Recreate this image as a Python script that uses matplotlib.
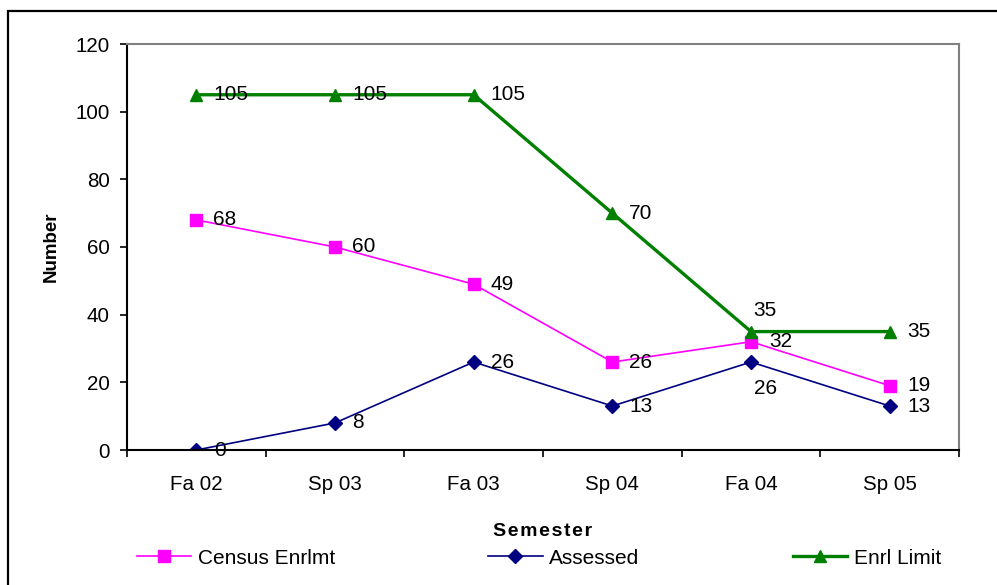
import matplotlib.pyplot as plt
from matplotlib.patches import Rectangle
import numpy as np

plt.rcParams['font.family'] = ['Liberation Sans', 'DejaVu Sans']

# Data
semesters = ['Fa 02', 'Sp 03', 'Fa 03', 'Sp 04', 'Fa 04', 'Sp 05']
census = [68, 60, 49, 26, 32, 19]
assessed = [0, 8, 26, 13, 26, 13]
enrl_limit = [105, 105, 105, 70, 35, 35]

# label offsets in pixels (dx, dy) per point
census_off = [(17, 0), (17, 0), (17, 0), (17, 0), (18, 0), (18, 0)]
assessed_off = [(18, 0), (17, 0), (17, 0), (17, 0), (3, -26), (18, 0)]
limit_off = [(17, 0), (17, 0), (17, 0), (17, 0), (2, 21), (18, 0)]

fig = plt.figure(figsize=(9.97, 5.85), dpi=100)
fig.patch.set_facecolor('white')

# outer chart border
fig.patches.append(Rectangle((8/997, -0.1), 1.2, 1 - 11/585 + 0.1, transform=fig.transFigure,
                             fill=False, edgecolor='black', linewidth=1.6))

ax = fig.add_axes([127/997, 135/585, 832/997, 406/585])
x = np.arange(len(semesters))

l1, = ax.plot(x, census, color='#FF00FF', lw=1.2, marker='s', ms=8, label='Census Enrlmt')
l2, = ax.plot(x, assessed, color='#000080', lw=1.2, marker='D', ms=7, label='Assessed')
l3, = ax.plot(x, enrl_limit, color='#008000', lw=2.4, marker='^', ms=9, label='Enrl Limit')

for vals, offs in [(census, census_off), (assessed, assessed_off), (enrl_limit, limit_off)]:
    for xi, v, (dx, dy) in zip(x, vals, offs):
        ax.annotate(str(v), (xi, v), xytext=(dx * 0.72, dy * 0.72), textcoords='offset points',
                    ha='left', va='center', fontsize=15, clip_on=False)

ax.set_xlim(-0.5, 5.5)
ax.set_ylim(0, 120)
ax.set_yticks(np.arange(0, 121, 20))
ax.set_xticks(x)
ax.set_xticklabels(semesters)
ax.set_xticks(np.arange(-0.5, 6, 1), minor=True)
ax.tick_params(axis='x', which='major', length=0, labelsize=14.8, pad=18)
ax.tick_params(axis='x', which='minor', length=5, width=1.2, direction='out')
ax.tick_params(axis='y', length=5, width=1.2, direction='out', labelsize=14.8, pad=7.5)

for s in ['top', 'right']:
    ax.spines[s].set_color('#808080')
    ax.spines[s].set_linewidth(1.5)
for s in ['left', 'bottom']:
    ax.spines[s].set_color('black')
    ax.spines[s].set_linewidth(1.5)

# slightly letter-spaced axis title
ax.set_xlabel('\u200a'.join('Semester'), fontsize=14, fontweight='bold', labelpad=21)
ax.set_ylabel('Number', fontsize=13.5, fontweight='bold', labelpad=11)

fig.legend(handles=[l1, l2, l3], loc='center', bbox_to_anchor=(539/997, 1 - 558/585),
           ncol=3, frameon=False, fontsize=15, handlelength=2.6, columnspacing=7.35,
           handletextpad=0.33)

fig.savefig('out.png', dpi=100)
